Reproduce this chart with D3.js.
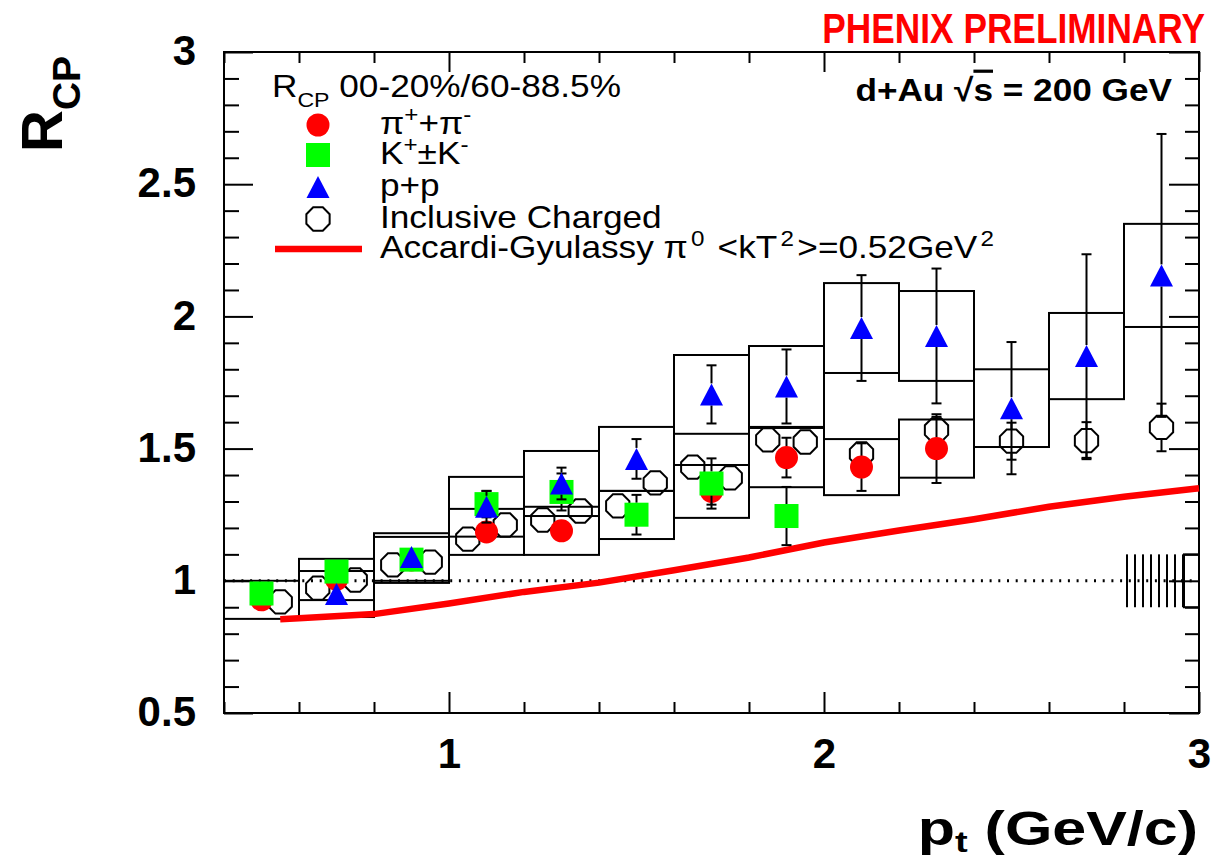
<!DOCTYPE html>
<html>
<head>
<meta charset="utf-8">
<script src="https://cdn.jsdelivr.net/npm/d3@7"></script>
<style>
  body { margin: 0; background: #fff; }
  svg { display: block; }
  text { font-family: "Liberation Sans", Arial, Helvetica, sans-serif; }
</style>
</head>
<body>
<svg id="chart" width="1228" height="861"></svg>
<script>
// ---------------- data ----------------
// pi+ + pi-
const pionPt   = [0.5, 0.7, 0.9, 1.1, 1.3, 1.5, 1.7, 1.9, 2.1, 2.3];
const pionRcp  = [0.928, 1.005, 1.079, 1.185, 1.189, 1.249, 1.338, 1.466, 1.43, 1.50];
const pionStat = [0.01, 0.01, 0.01, 0.015, 0.02, 0.03, 0.05, 0.075, 0.09, 0.13];
const pionSys  = [0.072, 0.078, 0.087, 0.087, 0.091, 0.091, 0.10, 0.112, 0.106, 0.11];

// K+ + K-
const kaonPt   = [0.5, 0.7, 0.9, 1.1, 1.3, 1.5, 1.7, 1.9];
const kaonRcp  = [0.952, 1.035, 1.08, 1.29, 1.336, 1.25, 1.368, 1.245];
const kaonStat = [0.01, 0.015, 0.02, 0.05, 0.07, 0.075, 0.095, 0.11];

// p + pbar
const protonPt   = [0.7, 0.9, 1.1, 1.3, 1.5, 1.7, 1.9, 2.1, 2.3, 2.5, 2.7, 2.9];
const protonRcp  = [0.95, 1.09, 1.28, 1.368, 1.461, 1.705, 1.735, 1.956, 1.926, 1.653, 1.85, 2.155];
const protonStat = [0.01, 0.02, 0.06, 0.06, 0.075, 0.11, 0.14, 0.2, 0.255, 0.25, 0.385, 0.535];
const protonSys  = [0.087, 0.09, 0.113, 0.123, 0.121, 0.149, 0.153, 0.17, 0.17, 0.147, 0.163, 0.195];

// inclusive charged hadrons
const chargedPt   = [0.55, 0.65, 0.75, 0.85, 0.95, 1.05, 1.15, 1.25, 1.35, 1.45, 1.55, 1.65, 1.75, 1.85, 1.95, 2.1, 2.3, 2.5, 2.7, 2.9];
const chargedRcp  = [0.92, 0.972, 1.003, 1.06, 1.071, 1.158, 1.211, 1.23, 1.264, 1.283, 1.37, 1.43, 1.389, 1.533, 1.525, 1.48, 1.57, 1.528, 1.53, 1.58];
const chargedStat = [0.01, 0.01, 0.01, 0.01, 0.01, 0.01, 0.01, 0.01, 0.01, 0.01, 0.01, 0.01, 0.01, 0.015, 0.015, 0.03, 0.05, 0.07, 0.07, 0.09];

// Accardi-Gyulassy pi0 calculation
const agPt  = [0.55, 0.6, 0.8, 1.0, 1.2, 1.4, 1.6, 1.8, 2.0, 2.2, 2.4, 2.6, 2.8, 3.0];
const agRcp = [0.855, 0.858, 0.874, 0.914, 0.958, 0.993, 1.04, 1.088, 1.145, 1.19, 1.233, 1.28, 1.318, 1.35];

// identified-hadron bin half width (GeV/c)
const binHalf = 0.1;

// normalization uncertainty band
const normPt    = [2.8, 2.96, 3.0];
const normRange = [0.9, 1.1];

// axes
const xDomain = [0.4, 3.0];
const yDomain = [0.5, 3.0];
const xMajorTicks = [1, 2, 3];
const xTickLabels = ["1", "2", "3"];
const yMajorTicks = [0.5, 1, 1.5, 2, 2.5, 3];
const yTickLabels = ["0.5", "1", "1.5", "2", "2.5", "3"];

// ---------------- drawing ----------------
const svg = d3.select("#chart");
const frame = { left: 224, top: 52, right: 1199, bottom: 713 };

const x = d3.scaleLinear().domain(xDomain).range([frame.left, frame.right]);
const y = d3.scaleLinear().domain(yDomain).range([frame.bottom, frame.top]);

const xMinorTicks = d3.range(0.4, 3.0001, 0.2).map(v => +v.toFixed(2)).filter(v => !xMajorTicks.includes(v));
const yMinorTicks = d3.range(0.5, 3.0001, 0.1).map(v => +v.toFixed(2)).filter(v => !yMajorTicks.includes(v));

const BLACK = "#000", RED = "#ff0000", GREEN = "#00ff00", BLUE = "#0000ff";

function styleAxis(g) {
  g.select(".domain").remove();
  g.selectAll(".tick line").attr("stroke", BLACK).attr("stroke-width", 2);
}

// bottom axis with labels
svg.append("g")
  .attr("transform", `translate(0,${frame.bottom})`)
  .call(d3.axisBottom(x).tickValues(xMajorTicks).tickFormat((d, i) => xTickLabels[i])
    .tickSizeInner(-21).tickSizeOuter(0).tickPadding(25))
  .call(styleAxis)
  .call(g => g.selectAll("text").attr("font-size", 42).attr("font-weight", "bold").attr("fill", BLACK));
svg.append("g")
  .attr("transform", `translate(0,${frame.bottom})`)
  .call(d3.axisBottom(x).tickValues(xMinorTicks).tickFormat("").tickSizeInner(-11).tickSizeOuter(0))
  .call(styleAxis);

// top axis (ticks only)
svg.append("g")
  .attr("transform", `translate(0,${frame.top})`)
  .call(d3.axisTop(x).tickValues(xMajorTicks).tickFormat("").tickSizeInner(-20).tickSizeOuter(0))
  .call(styleAxis);
svg.append("g")
  .attr("transform", `translate(0,${frame.top})`)
  .call(d3.axisTop(x).tickValues(xMinorTicks).tickFormat("").tickSizeInner(-11).tickSizeOuter(0))
  .call(styleAxis);

// left axis with labels
svg.append("g")
  .attr("transform", `translate(${frame.left},0)`)
  .call(d3.axisLeft(y).tickValues(yMajorTicks).tickFormat((d, i) => yTickLabels[i])
    .tickSizeInner(-29).tickSizeOuter(0).tickPadding(28))
  .call(styleAxis)
  .call(g => g.selectAll("text").attr("font-size", 42).attr("font-weight", "bold").attr("fill", BLACK).attr("dy", "0.3em"));
svg.append("g")
  .attr("transform", `translate(${frame.left},0)`)
  .call(d3.axisLeft(y).tickValues(yMinorTicks).tickFormat("").tickSizeInner(-15).tickSizeOuter(0))
  .call(styleAxis);

// right axis (ticks only)
svg.append("g")
  .attr("transform", `translate(${frame.right},0)`)
  .call(d3.axisRight(y).tickValues(yMajorTicks).tickFormat("").tickSizeInner(-30).tickSizeOuter(0))
  .call(styleAxis);
svg.append("g")
  .attr("transform", `translate(${frame.right},0)`)
  .call(d3.axisRight(y).tickValues(yMinorTicks).tickFormat("").tickSizeInner(-14).tickSizeOuter(0))
  .call(styleAxis);

// frame
svg.append("rect")
  .attr("x", frame.left).attr("y", frame.top)
  .attr("width", frame.right - frame.left).attr("height", frame.bottom - frame.top)
  .attr("fill", "none").attr("stroke", BLACK).attr("stroke-width", 2);

const plot = svg.append("g");

// reference line at R_CP = 1
plot.append("line")
  .attr("x1", x(xDomain[0])).attr("x2", x(xDomain[1]))
  .attr("y1", y(1)).attr("y2", y(1))
  .attr("stroke", BLACK).attr("stroke-width", 3).attr("stroke-dasharray", "2,6.7");

// normalization band: vertical hatching plus a small box
const defs = svg.append("defs");
defs.append("pattern")
  .attr("id", "vhatch").attr("patternUnits", "userSpaceOnUse")
  .attr("x", x(normPt[0]) + 2).attr("y", 0).attr("width", 8).attr("height", 8)
  .append("rect").attr("x", 0).attr("y", 0).attr("width", 2).attr("height", 8).attr("fill", BLACK);
plot.append("rect")
  .attr("x", x(normPt[0])).attr("y", y(normRange[1]))
  .attr("width", x(normPt[1]) - x(normPt[0])).attr("height", y(normRange[0]) - y(normRange[1]))
  .attr("fill", "url(#vhatch)");
plot.append("rect")
  .attr("x", x(normPt[1])).attr("y", y(normRange[1]))
  .attr("width", x(normPt[2]) - x(normPt[1])).attr("height", y(normRange[0]) - y(normRange[1]))
  .attr("fill", "none").attr("stroke", BLACK).attr("stroke-width", 2);

// systematic boxes (pions and protons)
function sysBoxes(pt, val, sys) {
  plot.append("g").selectAll("rect").data(pt).join("rect")
    .attr("x", d => x(d - binHalf))
    .attr("width", d => x(d + binHalf) - x(d - binHalf))
    .attr("y", (d, i) => y(val[i] + sys[i]))
    .attr("height", (d, i) => y(val[i] - sys[i]) - y(val[i] + sys[i]))
    .attr("fill", "none").attr("stroke", BLACK).attr("stroke-width", 2);
}
sysBoxes(pionPt, pionRcp, pionSys);
sysBoxes(protonPt, protonRcp, protonSys);

// theory curve
plot.append("path")
  .datum(agPt.map((p, i) => [p, agRcp[i]]))
  .attr("d", d3.line().x(d => x(d[0])).y(d => y(d[1])))
  .attr("fill", "none").attr("stroke", RED).attr("stroke-width", 6.5);

// error bars: drawn outside the marker only, with caps
function errorBars(pt, val, err, gap) {
  const g = plot.append("g").attr("stroke", BLACK).attr("stroke-width", 2);
  pt.forEach((p, i) => {
    const cx = x(p), yc = y(val[i]), yt = y(val[i] + err[i]), yb = y(val[i] - err[i]);
    if (yc - yt > gap) {
      g.append("line").attr("x1", cx).attr("x2", cx).attr("y1", yc - gap).attr("y2", yt);
      g.append("line").attr("x1", cx - 5).attr("x2", cx + 5).attr("y1", yt).attr("y2", yt);
    }
    if (yb - yc > gap) {
      g.append("line").attr("x1", cx).attr("x2", cx).attr("y1", yc + gap).attr("y2", yb);
      g.append("line").attr("x1", cx - 5).attr("x2", cx + 5).attr("y1", yb).attr("y2", yb);
    }
  });
}

// marker shapes
function octagonPath(cx, cy, r) {
  const pts = d3.range(8).map(k => {
    const a = Math.PI / 8 + k * Math.PI / 4;
    return [cx + r * Math.cos(a), cy + r * Math.sin(a)];
  });
  return "M" + pts.map(p => p.join(",")).join("L") + "Z";
}
function trianglePath(cx, cy, w, h) {
  return `M${cx},${cy - h / 2}L${cx + w / 2},${cy + h / 2}L${cx - w / 2},${cy + h / 2}Z`;
}
function drawOctagon(g, cx, cy) {
  g.append("path").attr("d", octagonPath(cx, cy, 12.6))
    .attr("fill", "none").attr("stroke", BLACK).attr("stroke-width", 2);
}
function drawCircle(g, cx, cy) {
  g.append("circle").attr("cx", cx).attr("cy", cy).attr("r", 11.5).attr("fill", RED);
}
function drawSquare(g, cx, cy) {
  g.append("rect").attr("x", cx - 12).attr("y", cy - 12).attr("width", 24).attr("height", 24).attr("fill", GREEN);
}
function drawTriangle(g, cx, cy) {
  g.append("path").attr("d", trianglePath(cx, cy, 23, 22)).attr("fill", BLUE);
}

// inclusive charged
errorBars(chargedPt, chargedRcp, chargedStat, 12);
const gCh = plot.append("g");
chargedPt.forEach((p, i) => drawOctagon(gCh, x(p), y(chargedRcp[i])));

// pions
errorBars(pionPt, pionRcp, pionStat, 11);
const gPi = plot.append("g");
pionPt.forEach((p, i) => drawCircle(gPi, x(p), y(pionRcp[i])));

// kaons
errorBars(kaonPt, kaonRcp, kaonStat, 12);
const gK = plot.append("g");
kaonPt.forEach((p, i) => drawSquare(gK, x(p), y(kaonRcp[i])));

// protons
errorBars(protonPt, protonRcp, protonStat, 11);
const gP = plot.append("g");
protonPt.forEach((p, i) => drawTriangle(gP, x(p), y(protonRcp[i])));

// ---------------- texts ----------------
// rich text helper: parts = [[string, "n" | "sup" | "sub"], ...]; pad adds room around raised parts
function rich(textSel, parts, size, small, up, down, pad = 0) {
  let cur = 0, prevSmall = false;
  parts.forEach(([t, k]) => {
    const off = k === "sup" ? -up : (k === "sub" ? down : 0);
    const isSmall = k !== "n";
    textSel.append("tspan")
      .attr("dy", off - cur)
      .attr("dx", (isSmall || prevSmall) ? pad : 0)
      .attr("font-size", isSmall ? small : size)
      .text(t);
    cur = off;
    prevSmall = isSmall;
  });
  return textSel;
}

// title banner
svg.append("text")
  .attr("transform", "translate(1205,43) scale(0.84,1)")
  .attr("text-anchor", "end").attr("font-size", 42).attr("font-weight", "bold").attr("fill", RED)
  .text("PHENIX PRELIMINARY");

// collision system
{
  const t = svg.append("text")
    .attr("transform", "translate(1172,101) scale(1.1,1)")
    .attr("text-anchor", "end").attr("font-size", 32).attr("font-weight", "bold").attr("fill", BLACK);
  t.append("tspan").text("d+Au \u221A");
  t.append("tspan").style("text-decoration", "overline").text("s");
  t.append("tspan").text(" = 200 GeV");
}

// y-axis title
{
  const t = svg.append("text")
    .attr("transform", "translate(62,152) rotate(-90)")
    .attr("font-weight", "bold").attr("fill", BLACK);
  t.append("tspan").attr("font-size", 58).text("R");
  t.append("tspan").attr("font-size", 39).attr("dy", 18).text("CP");
}

// x-axis title
{
  const t = svg.append("text")
    .attr("transform", "translate(1198,845) scale(1.27,1)")
    .attr("text-anchor", "end").attr("font-weight", "bold").attr("fill", BLACK);
  rich(t, [["p", "n"], ["t", "sub"], [" (GeV/c)", "n"]], 48, 30, 0, 7);
}

// legend
const legend = svg.append("g");
{
  const t = legend.append("text")
    .attr("transform", "translate(272,97) scale(1.1,1)").attr("fill", BLACK);
  rich(t, [["R", "n"], ["CP", "sub"], [" 00-20%/60-88.5%", "n"]], 32, 21, 0, 10);
}
const legendRows = [
  { y: 125, kind: "circle",   pad: 0, parts: [["\u03C0", "n"], ["+", "sup"], ["+\u03C0", "n"], ["-", "sup"]] },
  { y: 155, kind: "square",   pad: 0, parts: [["K", "n"], ["+", "sup"], ["\u00B1K", "n"], ["-", "sup"]] },
  { y: 187, kind: "triangle", pad: 0, parts: [["p+p", "n"]] },
  { y: 219, kind: "octagon",  pad: 0, parts: [["Inclusive Charged", "n"]] },
  { y: 249, kind: "line",     pad: 3, parts: [["Accardi-Gyulassy \u03C0", "n"], ["0", "sup"], [" <kT", "n"], ["2", "sup"], [">=0.52GeV", "n"], ["2", "sup"]] }
];
legendRows.forEach(r => {
  const mx = 318;
  if (r.kind === "circle") drawCircle(legend, mx, r.y);
  if (r.kind === "square") drawSquare(legend, mx, r.y);
  if (r.kind === "triangle") drawTriangle(legend, mx, r.y);
  if (r.kind === "octagon") drawOctagon(legend, mx, r.y);
  if (r.kind === "line") legend.append("line").attr("x1", 275).attr("x2", 362).attr("y1", r.y).attr("y2", r.y)
    .attr("stroke", RED).attr("stroke-width", 6.5);
  const t = legend.append("text")
    .attr("transform", `translate(380,${r.y + 9}) scale(1.1,1)`).attr("fill", BLACK);
  rich(t, r.parts, 32, 22, 12, 8, r.pad);
});
</script>
</body>
</html>
